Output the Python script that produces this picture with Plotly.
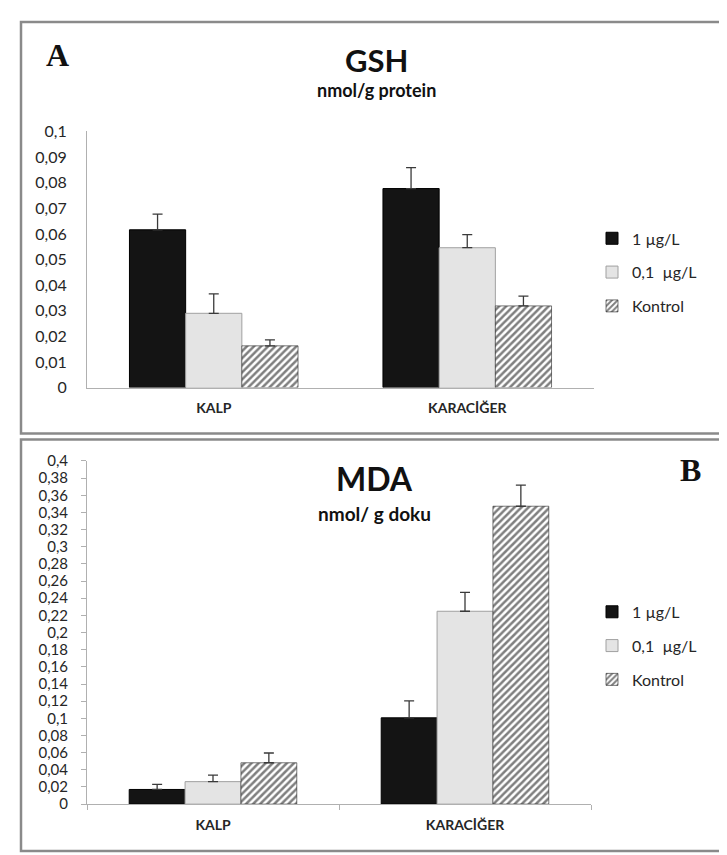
import plotly.graph_objects as go

# ---------------- data ----------------
categories = ["KALP", "KARACİĞER"]
series_names = ["1 µg/L", "0,1  µg/L", "Kontrol"]

gsh_1ug = [0.0616, 0.0777]
gsh_01ug = [0.0290, 0.0546]
gsh_kontrol = [0.0163, 0.0319]
gsh_err_1ug = [0.0061, 0.0082]
gsh_err_01ug = [0.0076, 0.0051]
gsh_err_kontrol = [0.0023, 0.0038]

mda_1ug = [0.0171, 0.1006]
mda_01ug = [0.0262, 0.2248]
mda_kontrol = [0.0482, 0.3472]
mda_err_1ug = [0.0060, 0.0198]
mda_err_01ug = [0.0076, 0.0221]
mda_err_kontrol = [0.0114, 0.0246]

gsh_tickvals = [0, 0.01, 0.02, 0.03, 0.04, 0.05, 0.06, 0.07, 0.08, 0.09, 0.1]
gsh_ticktext = ["0", "0,01", "0,02", "0,03", "0,04", "0,05", "0,06", "0,07", "0,08", "0,09", "0,1"]
mda_tickvals = [0, 0.02, 0.04, 0.06, 0.08, 0.1, 0.12, 0.14, 0.16, 0.18, 0.2,
                0.22, 0.24, 0.26, 0.28, 0.3, 0.32, 0.34, 0.36, 0.38, 0.4]
mda_ticktext = ["0", "0,02", "0,04", "0,06", "0,08", "0,1", "0,12", "0,14", "0,16", "0,18", "0,2",
                "0,22", "0,24", "0,26", "0,28", "0,3", "0,32", "0,34", "0,36", "0,38", "0,4"]

# ---------------- layout helpers ----------------
W, H = 727, 855
FONT = "Lato, 'Open Sans', sans-serif"
TXT = "#262626"

def px(x):
    return x / W

def py(y):
    return 1 - y / H

styles = [
    dict(color="#141414", line=dict(color="#000000", width=1)),
    dict(color="#e4e4e4", line=dict(color="#a0a0a0", width=1)),
    dict(color="white", line=dict(color="#222222", width=0.6),
         pattern=dict(shape="/", fgcolor="#000000", bgcolor="white", size=5, solidity=0.5)),
]

fig = go.Figure()

panels = [
    ("x", "y", "legend", [gsh_1ug, gsh_01ug, gsh_kontrol],
     [gsh_err_1ug, gsh_err_01ug, gsh_err_kontrol]),
    ("x2", "y2", "legend2", [mda_1ug, mda_01ug, mda_kontrol],
     [mda_err_1ug, mda_err_01ug, mda_err_kontrol]),
]

for xa, ya, lg, vals, errs in panels:
    for i, name in enumerate(series_names):
        fig.add_trace(go.Bar(
            x=categories, y=vals[i], name=name,
            xaxis=xa, yaxis=ya, legend=lg, legendgroup=lg + str(i),
            marker=styles[i],
            error_y=dict(type="data", symmetric=False, array=errs[i],
                         arrayminus=[0] * len(errs[i]),
                         color="#3a3a3a", thickness=1.3, width=5),
        ))

axis_common = dict(showgrid=False, zeroline=False, showline=True, linecolor="#b0b0b0",
                   linewidth=1, fixedrange=True)

fig.update_layout(
    width=W, height=H,
    margin=dict(l=0, r=0, t=0, b=0),
    paper_bgcolor="white", plot_bgcolor="white",
    barmode="group", bargap=0.335, bargroupgap=0,
    font=dict(family=FONT, color=TXT),
    xaxis=dict(domain=[px(79), px(586)], anchor="y", **axis_common,
               tickfont=dict(size=14, family=FONT, color=TXT, weight="bold"),
               ticks="", ticklabelstandoff=8),
    yaxis=dict(domain=[py(378), py(116)], anchor="x", range=[0, 0.1], **axis_common,
               tickvals=gsh_tickvals, ticktext=gsh_ticktext, ticks="",
               tickfont=dict(size=16, family=FONT, color=TXT), ticklabelstandoff=16),
    xaxis2=dict(domain=[px(79), px(583)], anchor="y2", **axis_common,
                tickfont=dict(size=14, family=FONT, color=TXT, weight="bold"),
                ticks="outside", ticklen=5, tickcolor="#b0b0b0", tickson="boundaries",
                ticklabelstandoff=8),
    yaxis2=dict(domain=[py(804), py(453)], anchor="x2", range=[0, 0.4], **axis_common,
                tickvals=mda_tickvals, ticktext=mda_ticktext, ticks="outside", ticklen=5,
                tickcolor="#b0b0b0",
                tickfont=dict(size=15, family=FONT, color=TXT), ticklabelstandoff=10),
    legend=dict(x=px(584), y=py(208), xanchor="left", yanchor="top",
                font=dict(size=16, family=FONT, color=TXT),
                tracegroupgap=10, bgcolor="rgba(0,0,0,0)", itemclick=False),
    legend2=dict(x=px(584), y=py(590), xanchor="left", yanchor="top",
                 font=dict(size=16, family=FONT, color=TXT),
                 tracegroupgap=10, bgcolor="rgba(0,0,0,0)", itemclick=False),
    showlegend=True,
)

# panel frames
for y0, y1 in [(4, 425), (431, 852)]:
    fig.add_shape(type="rect", xref="paper", yref="paper",
                  x0=px(13), x1=px(718), y0=py(y1), y1=py(y0),
                  line=dict(color="#8a8a8a", width=2.5), fillcolor="rgba(0,0,0,0)")

def label(text, x, y, size, family=FONT, bold=True):
    fig.add_annotation(text=text, x=px(x), y=py(y), xref="paper", yref="paper",
                       showarrow=False, xanchor="center", yanchor="middle",
                       font=dict(size=size, family=family, color="#111111",
                                 weight="bold" if bold else "normal"))

SERIF = "'Liberation Serif', 'DejaVu Serif', serif"
label("A", 49, 38, 32, SERIF)
label("GSH", 368, 43, 31)
label("nmol/g protein", 368, 74, 18)
label("B", 682, 462, 32, SERIF)
label("MDA", 366, 471, 32)
label("nmol/ g doku", 366, 507, 19)

fig.write_html("out.html")
